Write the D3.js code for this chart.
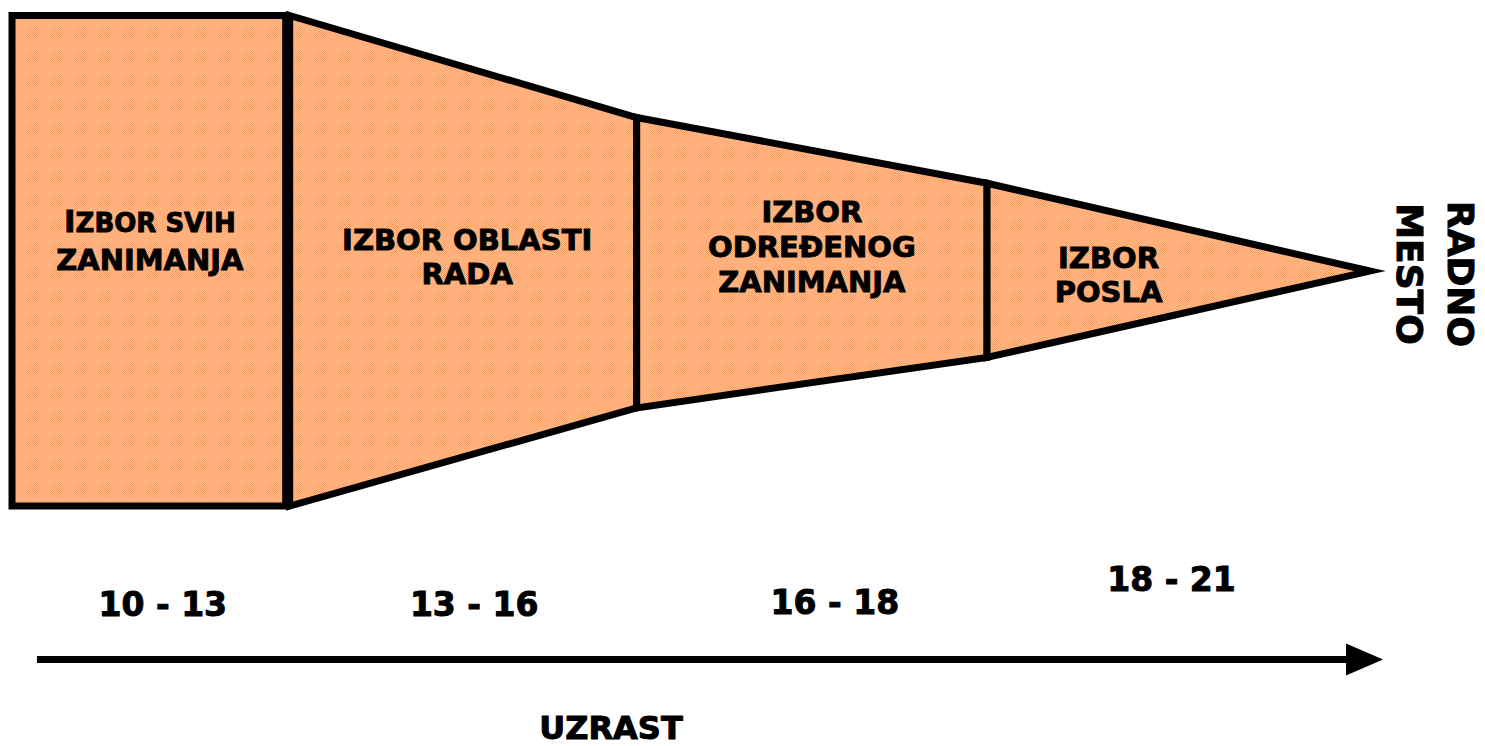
<!DOCTYPE html>
<html>
<head>
<meta charset="utf-8">
<script src="https://cdn.jsdelivr.net/npm/d3@7"></script>
<style>
    body { margin: 0; background: #fff; }
    svg { display: block; font-family: "DejaVu Sans", Verdana, sans-serif; font-weight: bold; }
</style>
</head>
<body>
<div id="chart"></div>
<script>
// stages of the funnel, left to right
const stageLines = [
    ["IZBOR SVIH", "ZANIMANJA"],
    ["IZBOR OBLASTI", "RADA"],
    ["IZBOR", "ODREĐENOG", "ZANIMANJA"],
    ["IZBOR", "POSLA"]
];
const ageRanges = ["10 - 13", "13 - 16", "16 - 18", "18 - 21"];
// share of the funnel length taken by each stage (sum = 100)
const stageWidths = [20.3, 25.7, 25.8, 28.2];
// funnel top / bottom at each stage boundary, in % of the first stage height
const boundaryTop = [0, 0, 20.8, 34.2, 52.1];
const boundaryBottom = [100, 100, 80, 69.7, 52.1];
const endLabel = ["RADNO", "MESTO"];
const axisLabel = "UZRAST";

const width = 1485;
const height = 746;

const x = d3.scaleLinear().domain([0, 100]).range([12, 1370]);
const y = d3.scaleLinear().domain([0, 100]).range([15.5, 506]);

const bounds = d3.cumsum([0, ...stageWidths]);

const svg = d3.select("#chart").append("svg")
    .attr("width", width)
    .attr("height", height)
    .attr("viewBox", [0, 0, width, height]);

// Word-like dotted orange fill: checkered dots on a light orange base
const defs = svg.append("defs");
const checker = defs.append("pattern")
    .attr("id", "checker")
    .attr("patternUnits", "userSpaceOnUse")
    .attr("width", 2).attr("height", 2);
checker.append("rect").attr("width", 2).attr("height", 2).attr("fill", "#ffd2ab");
checker.append("rect").attr("width", 1).attr("height", 1).attr("fill", "#f2843a");
checker.append("rect").attr("x", 1).attr("y", 1).attr("width", 1).attr("height", 1).attr("fill", "#f2843a");

const grad = defs.append("radialGradient").attr("id", "dotFade");
grad.append("stop").attr("offset", "0%").attr("stop-color", "#fff").attr("stop-opacity", 0.9);
grad.append("stop").attr("offset", "60%").attr("stop-color", "#fff").attr("stop-opacity", 0.5);
grad.append("stop").attr("offset", "100%").attr("stop-color", "#fff").attr("stop-opacity", 0);
defs.append("mask").attr("id", "dotMask")
    .attr("maskUnits", "userSpaceOnUse")
    .attr("x", 0).attr("y", 0).attr("width", 24).attr("height", 24)
    .append("circle").attr("cx", 12).attr("cy", 12).attr("r", 9).attr("fill", "url(#dotFade)");

const dots = defs.append("pattern")
    .attr("id", "dots")
    .attr("patternUnits", "userSpaceOnUse")
    .attr("x", 21).attr("y", 21)
    .attr("width", 24).attr("height", 24);
dots.append("rect").attr("width", 24).attr("height", 24).attr("fill", "#ffb07b");
dots.append("circle")
    .attr("cx", 12).attr("cy", 12).attr("r", 9)
    .attr("fill", "url(#checker)")
    .attr("mask", "url(#dotMask)");

// funnel shapes, the first stage sits just apart from the second (double border)
const gap = 2;
const shapes = stageLines.map((d, i) => {
    const x0 = x(bounds[i]) + (i === 1 ? gap : 0);
    const x1 = x(bounds[i + 1]) - (i === 0 ? gap : 0);
    const pts = [
        [x0, y(boundaryTop[i])],
        [x1, y(boundaryTop[i + 1])],
        [x1, y(boundaryBottom[i + 1])],
        [x0, y(boundaryBottom[i])]
    ];
    return {lines: d, age: ageRanges[i], pts, cx: (x(bounds[i]) + x(bounds[i + 1])) / 2};
});

svg.append("g")
    .selectAll("path")
    .data(shapes)
    .join("path")
    .attr("d", d => d3.line()(d.pts) + "Z")
    .attr("fill", "url(#dots)")
    .attr("stroke", "#000")
    .attr("stroke-width", 7)
    .attr("stroke-linejoin", "miter")
    .attr("stroke-miterlimit", 20);

// stage labels (first baseline, line step, x shift)
const labelLayout = [
    {y: 232, step: 38, dx: 0},
    {y: 250, step: 34, dx: 5},
    {y: 222, step: 35, dx: 0},
    {y: 268, step: 34, dx: -70}
];

const labels = svg.append("g")
    .attr("text-anchor", "middle")
    .attr("font-size", 29)
    .attr("stroke", "#000")
    .attr("stroke-width", 0.9)
    .selectAll("text")
    .data(shapes)
    .join("text")
    .attr("transform", (d, i) => `translate(${d.cx + labelLayout[i].dx},${labelLayout[i].y})`);

labels.each(function (d, i) {
    const t = d3.select(this);
    d.lines.forEach((line, j) => {
        const ts = t.append("tspan")
            .attr("x", 0)
            .attr("y", j * labelLayout[i].step);
        if (i === 0 && j === 0) {
            // small caps look of the first heading
            ts.append("tspan").attr("font-size", 31).text(line[0]);
            ts.append("tspan").attr("font-size", 26).text(line.slice(1));
        } else {
            ts.text(line);
        }
    });
});

// age ranges under the funnel
const ageLayout = [
    {dx: 13, y: 616},
    {dx: 12, y: 616},
    {dx: 23, y: 614},
    {dx: -7, y: 591}
];
svg.append("g")
    .attr("text-anchor", "middle")
    .attr("font-size", 33)
    .attr("stroke", "#000")
    .attr("stroke-width", 1)
    .selectAll("text")
    .data(shapes)
    .join("text")
    .attr("x", (d, i) => d.cx + ageLayout[i].dx)
    .attr("y", (d, i) => ageLayout[i].y)
    .text(d => d.age);

// age axis arrow
const arrowY = 659.5;
svg.append("line")
    .attr("x1", 37).attr("x2", 1350)
    .attr("y1", arrowY).attr("y2", arrowY)
    .attr("stroke", "#000")
    .attr("stroke-width", 7);
svg.append("path")
    .attr("d", d3.line()([[1346, arrowY - 16], [1383, arrowY], [1346, arrowY + 16]]) + "Z")
    .attr("fill", "#000");

svg.append("text")
    .attr("x", 611)
    .attr("y", 739)
    .attr("text-anchor", "middle")
    .attr("font-size", 32)
    .attr("stroke", "#000")
    .attr("stroke-width", 1)
    .text(axisLabel);

// end of the funnel, written top to bottom
svg.append("g")
    .attr("font-size", 36)
    .attr("text-anchor", "middle")
    .attr("stroke", "#000")
    .attr("stroke-width", 1)
    .selectAll("text")
    .data(endLabel)
    .join("text")
    .attr("transform", (d, i) => `translate(${1448 - i * 51},274) rotate(90)`)
    .text(d => d);
</script>
</body>
</html>
